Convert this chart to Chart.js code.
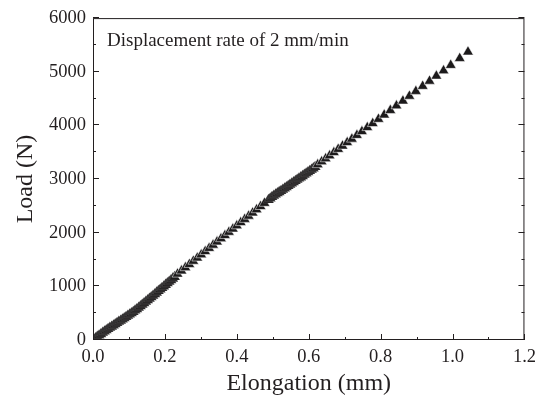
<!DOCTYPE html>
<html>
<head>
<meta charset="utf-8">
<script src="https://cdn.jsdelivr.net/npm/chart.js@4/dist/chart.umd.min.js"></script>
<style>
    html, body { margin: 0; padding: 0; background: #fff; }
    #wrap { width: 542px; height: 403px; }
</style>
</head>
<body>
<div id="wrap"><canvas id="loadChart"></canvas></div>
<script>
// elongation (mm) and load (N)
const elongation = [
    0.002, 0.007, 0.012, 0.017, 0.022, 0.027, 0.032, 0.037, 0.042, 0.047,
    0.052, 0.057, 0.062, 0.067, 0.072, 0.077, 0.082, 0.087, 0.092, 0.097,
    0.102, 0.107, 0.112, 0.117, 0.122, 0.127, 0.132, 0.137, 0.142, 0.147,
    0.152, 0.157, 0.162, 0.167, 0.172, 0.177, 0.182, 0.187, 0.192, 0.197,
    0.202, 0.207, 0.212, 0.217, 0.222, 0.227,
    0.235, 0.246, 0.257, 0.268, 0.279, 0.290, 0.301, 0.312, 0.323, 0.334,
    0.345, 0.356, 0.367, 0.378, 0.389, 0.400, 0.411, 0.422, 0.433, 0.444,
    0.455, 0.466, 0.477, 0.488,
    0.493, 0.498, 0.503, 0.508, 0.513, 0.518, 0.523, 0.528, 0.533, 0.538,
    0.543, 0.548, 0.553, 0.558, 0.563, 0.568, 0.573, 0.578, 0.583, 0.588,
    0.593, 0.598, 0.603, 0.608, 0.613, 0.618,
    0.625, 0.636, 0.647, 0.658, 0.670, 0.682, 0.694, 0.707, 0.720, 0.734,
    0.748, 0.763, 0.778, 0.794, 0.810, 0.827, 0.844, 0.862, 0.880, 0.898,
    0.917, 0.936, 0.955, 0.975, 0.995, 1.020, 1.043
];
const load = [
    10, 35, 60, 85, 110, 135, 160, 182, 205, 228,
    250, 272, 295, 318, 340, 362, 385, 408, 430, 452,
    476, 500, 525, 550, 575, 602, 630, 658, 686, 714,
    742, 770, 798, 826, 855, 884, 913, 942, 971, 1000,
    1029, 1058, 1087, 1116, 1145, 1174,
    1230, 1290, 1350, 1410, 1470, 1530, 1590, 1650, 1710, 1770,
    1830, 1890, 1950, 2010, 2070, 2130, 2190, 2250, 2310, 2370,
    2430, 2490, 2550, 2610,
    2640, 2665, 2690, 2712, 2735, 2758, 2780, 2803, 2826, 2849,
    2872, 2895, 2918, 2941, 2964, 2987, 3010, 3033, 3056, 3080,
    3104, 3128, 3152, 3176, 3200, 3225,
    3270, 3325, 3380, 3435, 3495, 3556, 3616, 3681, 3746, 3816,
    3886, 3961, 4036, 4116, 4196, 4281, 4366, 4456, 4546, 4636,
    4731, 4826, 4921, 5021, 5121, 5250, 5370
];
const xTicks = [0, 0.2, 0.4, 0.6, 0.8, 1.0, 1.2];
const yTicks = [0, 1000, 2000, 3000, 4000, 5000, 6000];
const noteText = 'Displacement rate of 2 mm/min';

const FONT = "'Liberation Serif', 'Times New Roman', serif";
const INK = '#231f20';

const points = elongation.map((x, i) => ({ x: x, y: load[i] }));

// markers packed close together read as a dark band, so their white edge is faint
function edgeColor(ctx) {
    const i = ctx.dataIndex;
    const next = elongation[i + 1];
    if (next === undefined || next - elongation[i] > 0.008) return 'rgba(255,255,255,0.9)';
    return 'rgba(255,255,255,0.22)';
}

// box round the plot, inward ticks (major + minor) and the note
const framePlugin = {
    id: 'frame',
    afterDraw(chart) {
        const { ctx, chartArea: a, scales } = chart;
        ctx.save();
        ctx.strokeStyle = INK;
        ctx.lineWidth = 1;
        ctx.strokeRect(a.left + 0.5, a.top + 0.5, a.right - a.left - 1, a.bottom - a.top - 1);

        ctx.beginPath();
        for (let i = 0; i < xTicks.length * 2 - 1; i++) {
            const v = xTicks[0] + i * (xTicks[1] - xTicks[0]) / 2;
            const px = Math.round(scales.x.getPixelForValue(v)) + 0.5;
            const len = i % 2 === 0 ? 6 : 3;
            ctx.moveTo(px, a.bottom);
            ctx.lineTo(px, a.bottom - len);
        }
        for (let i = 0; i < yTicks.length * 2 - 1; i++) {
            const v = yTicks[0] + i * (yTicks[1] - yTicks[0]) / 2;
            const py = Math.round(scales.y.getPixelForValue(v)) - 0.5;
            const len = i % 2 === 0 ? 6 : 3;
            ctx.moveTo(a.left, py);
            ctx.lineTo(a.left + len, py);
            ctx.moveTo(a.right, py);
            ctx.lineTo(a.right - len, py);
        }
        ctx.stroke();

        ctx.fillStyle = INK;
        ctx.font = `19px ${FONT}`;
        ctx.textBaseline = 'alphabetic';
        ctx.textAlign = 'left';
        ctx.fillText(noteText, a.left + 14, a.top + 28);
        ctx.restore();
    }
};

new Chart(document.getElementById('loadChart'), {
    type: 'scatter',
    data: {
        datasets: [{
            data: points,
            pointStyle: 'triangle',
            pointRadius: 6.2,
            pointBackgroundColor: '#1c1a1b',
            pointBorderColor: edgeColor,
            pointBorderWidth: 0.6,
            showLine: false
        }]
    },
    options: {
        responsive: true, maintainAspectRatio: false, animation: false,
        layout: { padding: { top: 17, right: 13, left: 0, bottom: 0 } },
        plugins: { legend: { display: false }, tooltip: { enabled: false } },
        scales: {
            x: {
                type: 'linear', min: 0, max: 1.2,
                afterFit: (s) => { s.height = 63; },
                afterBuildTicks: (s) => { s.ticks = xTicks.map(v => ({ value: v })); },
                ticks: { color: INK, font: { family: FONT, size: 18.5 }, padding: 6, maxRotation: 0, callback: (v) => Number(v).toFixed(1) },
                grid: { display: false, drawTicks: false },
                border: { display: false },
                title: { display: true, text: 'Elongation (mm)', color: INK, font: { family: FONT, size: 24 }, padding: { top: 0, bottom: 5 } }
            },
            y: {
                type: 'linear', min: 0, max: 6000,
                afterFit: (s) => { s.width = 93; },
                afterBuildTicks: (s) => { s.ticks = yTicks.map(v => ({ value: v })); },
                ticks: { color: INK, font: { family: FONT, size: 18.5 }, padding: 7, callback: (v) => String(v) },
                grid: { display: false, drawTicks: false },
                border: { display: false },
                title: { display: true, text: 'Load (N)', color: INK, font: { family: FONT, size: 24 }, padding: { top: 11, bottom: 0 } }
            }
        }
    },
    plugins: [framePlugin]
});
</script>
</body>
</html>
